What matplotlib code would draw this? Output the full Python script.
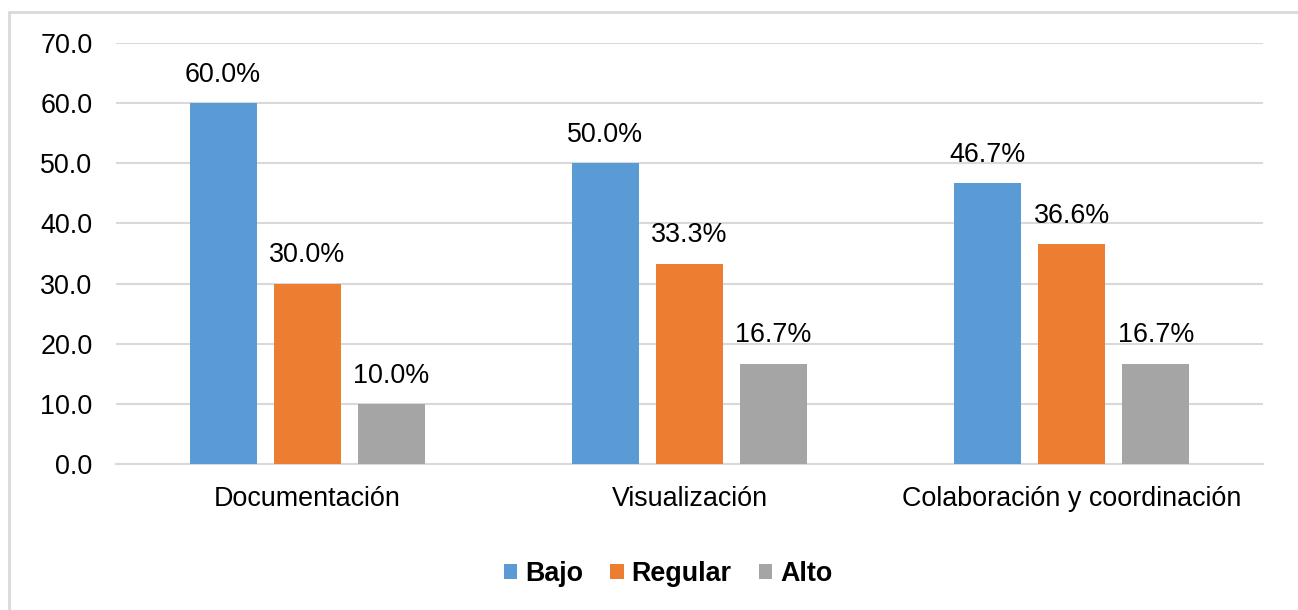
import matplotlib.pyplot as plt
import matplotlib.patches as mpatches
import numpy as np

# data
categorias = ["Documentación", "Visualización", "Colaboración y coordinación"]
bajo = [60.0, 50.0, 46.7]
regular = [30.0, 33.3, 36.6]
alto = [10.0, 16.7, 16.7]
series = ["Bajo", "Regular", "Alto"]
colores = ["#5B9BD5", "#ED7D31", "#A5A5A5"]
yticks = [0, 10, 20, 30, 40, 50, 60, 70]

plt.rcParams['font.family'] = ['Liberation Sans', 'DejaVu Sans']
fs = 19.4

fig = plt.figure(figsize=(12.98, 6.10), dpi=100)
# chart frame, it runs off the right and bottom of the picture
fig.patches.append(mpatches.Rectangle((9/1298, -0.1), 1.2, 0.1 + (610-12)/610,
                                      transform=fig.transFigure, fill=False,
                                      edgecolor="#D9D9D9", linewidth=2))
ax = fig.add_axes([116/1298, 1 - 464/610, (1263-116)/1298, (464-43)/610])

x = np.arange(len(categorias))
ancho = 0.175
paso = 0.22
for i, (nombre, vals) in enumerate(zip(series, [bajo, regular, alto])):
    pos = x + (i - 1) * paso
    barras = ax.bar(pos, vals, ancho, color=colores[i], label=nombre, zorder=3)
    for b, v in zip(barras, vals):
        ax.annotate("%.1f%%" % v, (b.get_x() + b.get_width()/2, v),
                    xytext=(0, 11), textcoords="offset points",
                    ha="center", va="bottom", fontsize=fs)

ax.set_xlim(-0.5, 2.5)
ax.set_ylim(0, 70)
ax.set_yticks(yticks)
ax.set_yticklabels(["%.1f" % t for t in yticks], fontsize=fs)
ax.set_xticks(x)
ax.set_xticklabels(categorias, fontsize=fs)
ax.tick_params(axis="y", length=0, pad=17)
ax.tick_params(axis="x", length=0, pad=16)
ax.grid(axis="y", color="#D9D9D9", linewidth=1.5, zorder=0)
for s in ["top", "left", "right"]:
    ax.spines[s].set_visible(False)
ax.spines["bottom"].set_color("#D9D9D9")
ax.spines["bottom"].set_linewidth(1.5)

leg = fig.legend(loc="center", bbox_to_anchor=(668/1298, 1 - 574/610), ncol=3,
                 frameon=False, prop={"weight": "bold", "size": fs},
                 handlelength=0.5, handleheight=0.5, handletextpad=0.3,
                 columnspacing=1.0)

fig.savefig("out.png", dpi=100)
